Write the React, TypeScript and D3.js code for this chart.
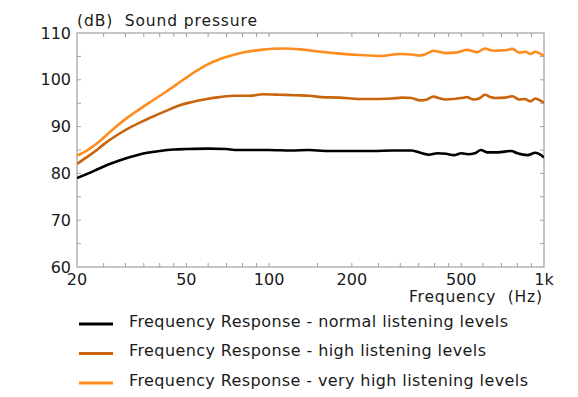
import React from "react";
import * as d3 from "d3";

const freqNormal = [20, 22, 24, 26, 28, 30, 33, 36, 40, 45, 50, 60, 70, 75, 85, 100, 120, 140, 160, 200, 240, 280, 330, 360, 380, 410, 440, 470, 500, 530, 560, 590, 620, 680, 760, 800, 870, 930, 970, 1000];
const dbNormal = [79.0, 80.0, 81.0, 81.9, 82.6, 83.2, 83.9, 84.4, 84.8, 85.1, 85.2, 85.3, 85.2, 85.0, 85.0, 85.0, 84.9, 85.0, 84.8, 84.8, 84.8, 84.9, 84.9, 84.3, 84.0, 84.3, 84.2, 83.9, 84.3, 84.1, 84.3, 85.0, 84.5, 84.5, 84.8, 84.3, 83.9, 84.4, 84.0, 83.4];

const freqHigh = [20, 21, 22, 23.6, 25, 28, 31.6, 34, 38, 42, 47, 52, 58, 66, 75, 85, 95, 110, 125, 140, 155, 180, 214, 253, 280, 305, 330, 354, 375, 395, 420, 437, 470, 500, 524, 555, 580, 610, 640, 665, 720, 767, 813, 850, 892, 930, 960, 1000];
const dbHigh = [82.0, 82.9, 83.7, 85.0, 86.2, 88.2, 90.0, 90.9, 92.2, 93.3, 94.5, 95.2, 95.8, 96.3, 96.6, 96.6, 96.9, 96.8, 96.7, 96.6, 96.3, 96.2, 95.9, 95.9, 96.0, 96.2, 96.1, 95.6, 95.8, 96.4, 96.0, 95.8, 95.9, 96.1, 96.3, 95.8, 96.0, 96.8, 96.3, 96.1, 96.2, 96.5, 95.8, 95.9, 95.4, 96.0, 95.7, 95.1];

const freqVeryHigh = [20, 21, 22, 24, 27.1, 30, 33, 36.4, 42, 48.7, 54, 59.3, 66, 74, 83, 93, 112, 130, 153, 180, 214, 253, 299, 330, 354, 375, 395, 415, 437, 478, 524, 572, 610, 640, 665, 720, 767, 813, 856, 892, 930, 960, 1000];
const dbVeryHigh = [83.8, 84.4, 85.1, 86.7, 89.5, 91.6, 93.3, 95.0, 97.4, 100.0, 101.8, 103.2, 104.4, 105.3, 106.0, 106.4, 106.7, 106.5, 106.0, 105.6, 105.3, 105.1, 105.5, 105.4, 105.2, 105.6, 106.2, 106.0, 105.7, 105.8, 106.4, 105.9, 106.7, 106.3, 106.2, 106.3, 106.6, 105.8, 106.0, 105.5, 106.0, 105.7, 105.1];

const xTickLabels = [20, 50, 100, 200, 500, 1000];
const xMinorTicks = [25, 30, 35, 40, 45, 50, 60, 70, 80, 90, 100, 150, 200, 250, 300, 350, 400, 450, 500, 600, 700, 800, 900];
const yTickLabels = [60, 70, 80, 90, 100, 110];
const yMinorTicks = [65, 70, 75, 80, 85, 90, 95, 100, 105];

const seriesNames = [
  "Frequency Response - normal listening levels",
  "Frequency Response - high listening levels",
  "Frequency Response - very high listening levels",
];
const seriesColors = ["#000000", "#c8640a", "#ff8c1e"];
const legendTextWidths = [379, 357, 399];

export default function App() {
  const W = 578, H = 397;
  const left = 77, right = 544, top = 33, bottom = 267;
  const x = d3.scaleLog().domain([20, 1000]).range([left, right]);
  const y = d3.scaleLinear().domain([60, 110]).range([bottom, top]);
  const font = "'DejaVu Sans', Verdana, sans-serif";
  const series = [
    { f: freqNormal, v: dbNormal },
    { f: freqHigh, v: dbHigh },
    { f: freqVeryHigh, v: dbVeryHigh },
  ];
  const line = d3
    .line<[number, number]>()
    .x((d) => x(d[0]))
    .y((d) => y(d[1]))
    .curve(d3.curveMonotoneX);
  const fmt = (v: number) => (v >= 1000 ? `${v / 1000}k` : `${v}`);
  const tickLen = 4;
  const frame = "#a0a0a0";
  const txt = "#1a1a1a";

  return (
    <svg width={W} height={H} style={{ position: "absolute", left: 0, top: 0, background: "#fff" }}>
      <defs>
        <clipPath id="plot">
          <rect x={left} y={top} width={right - left} height={bottom - top} />
        </clipPath>
      </defs>
      {xMinorTicks.map((t) => (
        <g key={"xt" + t} stroke={frame} strokeWidth={1}>
          <line x1={x(t)} x2={x(t)} y1={bottom} y2={bottom - tickLen} />
          <line x1={x(t)} x2={x(t)} y1={top} y2={top + tickLen} />
        </g>
      ))}
      {yMinorTicks.map((t) => (
        <g key={"yt" + t} stroke={frame} strokeWidth={1}>
          <line x1={left} x2={left + tickLen} y1={y(t)} y2={y(t)} />
          <line x1={right} x2={right - tickLen} y1={y(t)} y2={y(t)} />
        </g>
      ))}
      <rect x={left} y={top} width={right - left} height={bottom - top} fill="none" stroke={frame} strokeWidth={1.2} />
      <g clipPath="url(#plot)">
        {series.map((s, i) => (
          <path
            key={i}
            d={line(s.f.map((f, j) => [f, s.v[j]] as [number, number])) || ""}
            fill="none"
            stroke={seriesColors[i]}
            strokeWidth={2.6}
            strokeLinejoin="round"
          />
        ))}
      </g>
      {yTickLabels.map((t) => (
        <text key={"yl" + t} x={71} y={y(t) + 5.5} textAnchor="end" fontFamily={font} fontSize={16} fill={txt}>
          {t}
        </text>
      ))}
      {xTickLabels.map((t) => (
        <text key={"xl" + t} x={x(t)} y={285} textAnchor="middle" fontFamily={font} fontSize={16} fill={txt}>
          {fmt(t)}
        </text>
      ))}
      <text x={77} y={26} fontFamily={font} fontSize={15.5} fill={txt} xmlSpace="preserve" textLength={180} lengthAdjust="spacing">
        (dB)  Sound pressure
      </text>
      <text x={409} y={302} fontFamily={font} fontSize={15.5} fill={txt} xmlSpace="preserve" textLength={133} lengthAdjust="spacing">
        Frequency  (Hz)
      </text>
      {seriesNames.map((n, i) => (
        <g key={"lg" + i}>
          <line x1={79} x2={113} y1={324 + i * 29.5} y2={324 + i * 29.5} stroke={seriesColors[i]} strokeWidth={3} />
          <text x={129} y={327 + i * 29.3} fontFamily={font} fontSize={16} fill={txt} textLength={legendTextWidths[i]} lengthAdjust="spacing">
            {n}
          </text>
        </g>
      ))}
    </svg>
  );
}
